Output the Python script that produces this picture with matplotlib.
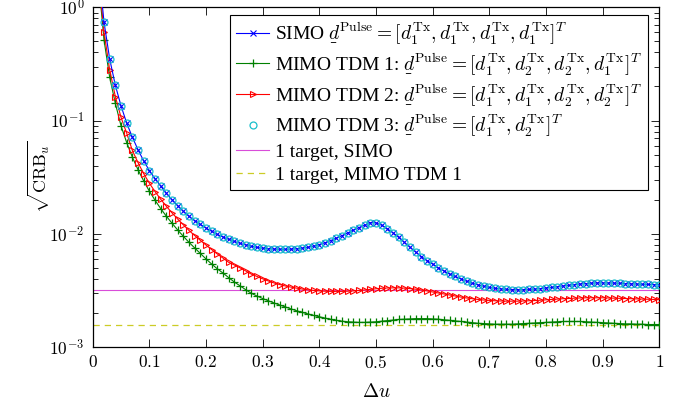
import numpy as np
import matplotlib.pyplot as plt
from matplotlib.ticker import FixedLocator, FuncFormatter, LogLocator, NullFormatter

plt.rcParams['font.family'] = ['Liberation Serif', 'DejaVu Serif']
plt.rcParams['mathtext.fontset'] = 'cm'

## values (u = 0.01 ... 1.00)
du = np.round(np.arange(1, 101) * 0.01, 2)

simo = [2.4, 0.74, 0.35, 0.205, 0.135, 0.095, 0.0714, 0.0552, 0.0441, 0.0362,
        0.0307, 0.0264, 0.0228, 0.0200, 0.0177, 0.0158, 0.01425, 0.01305, 0.0121, 0.01125,
        0.0105, 0.00988, 0.00937, 0.00893, 0.00857, 0.00823, 0.00797, 0.00776, 0.00758, 0.00746,
        0.00738, 0.00733, 0.0073, 0.0073, 0.00732, 0.00737, 0.00746, 0.0076, 0.00779, 0.00803,
        0.00834, 0.00871, 0.00914, 0.00963, 0.01018, 0.01076, 0.01135, 0.0119, 0.01255, 0.0125,
        0.0119, 0.0111, 0.0102, 0.0093, 0.0084, 0.0076, 0.0069, 0.0063, 0.0058, 0.0054,
        0.0050, 0.0047, 0.0044, 0.0042, 0.0040, 0.0038, 0.00366, 0.00354, 0.00344, 0.00336,
        0.0033, 0.00326, 0.00323, 0.00322, 0.00321, 0.00322, 0.00323, 0.00325, 0.00328, 0.00332,
        0.00336, 0.00341, 0.00346, 0.00351, 0.00356, 0.0036, 0.00363, 0.00366, 0.00368, 0.00368,
        0.00368, 0.00367, 0.00365, 0.00363, 0.00361, 0.0036, 0.00358, 0.00357, 0.00356, 0.00355]

tdm1 = [1.8, 0.515, 0.241, 0.142, 0.0898, 0.064, 0.0475, 0.0368, 0.0293, 0.0238,
        0.0198, 0.0167, 0.0143, 0.0124, 0.0108, 0.0095, 0.0084, 0.0075, 0.0067, 0.0060,
        0.0054, 0.0049, 0.0045, 0.0041, 0.00375, 0.00347, 0.00321, 0.00298, 0.00282, 0.00268,
        0.00256, 0.00245, 0.00235, 0.00226, 0.00217, 0.00209, 0.00202, 0.00196, 0.0019, 0.00185,
        0.0018, 0.00176, 0.00172, 0.00169, 0.00167, 0.00166, 0.00165, 0.00165, 0.00166, 0.00167,
        0.00169, 0.00171, 0.00173, 0.00175, 0.00176, 0.00177, 0.00178, 0.00178, 0.00178, 0.00177,
        0.00176, 0.00174, 0.00172, 0.0017, 0.00168, 0.00166, 0.00164, 0.00162, 0.00161, 0.0016,
        0.00159, 0.00159, 0.00159, 0.00159, 0.0016, 0.00161, 0.00162, 0.00163, 0.00164, 0.00165,
        0.00166, 0.00167, 0.00168, 0.00168, 0.00168, 0.00168, 0.00167, 0.00166, 0.00165, 0.00164,
        0.00163, 0.00162, 0.00161, 0.0016, 0.0016, 0.00159, 0.00159, 0.00158, 0.00158, 0.00158]

tdm2 = [2.0, 0.605, 0.28, 0.163, 0.107, 0.0774, 0.0545, 0.0425, 0.0340, 0.0280,
        0.0236, 0.0202, 0.0175, 0.0153, 0.0135, 0.0120, 0.0107, 0.00965, 0.00875, 0.00795,
        0.00725, 0.00663, 0.0061, 0.0056, 0.0053, 0.0050, 0.0047, 0.0044, 0.0042, 0.0040,
        0.00383, 0.00368, 0.00356, 0.00346, 0.00338, 0.00331, 0.00325, 0.0032, 0.00316, 0.00313,
        0.00311, 0.0031, 0.0031, 0.0031, 0.00311, 0.00313, 0.00316, 0.00319, 0.00323, 0.00327,
        0.0033, 0.00332, 0.00333, 0.00333, 0.00331, 0.00328, 0.00324, 0.00319, 0.00313, 0.00306,
        0.003, 0.00294, 0.00288, 0.00282, 0.00276, 0.00271, 0.00267, 0.00263, 0.0026, 0.00258,
        0.00256, 0.00255, 0.00254, 0.00254, 0.00254, 0.00255, 0.00256, 0.00257, 0.00259, 0.00261,
        0.00263, 0.00265, 0.00267, 0.00268, 0.0027, 0.00271, 0.00272, 0.00272, 0.00272, 0.00272,
        0.00271, 0.0027, 0.00269, 0.00268, 0.00267, 0.00266, 0.00265, 0.00264, 0.00263, 0.00262]

tdm3 = simo  # identical to SIMO in the reference

single_simo = 3.17e-3
single_tdm1 = 1.556e-3

D = r'\underset{\_}{d}^{\mathrm{Pulse}}'
labels = [r'SIMO $' + D + r' = [d_1^{\mathrm{Tx}}, d_1^{\mathrm{Tx}}, d_1^{\mathrm{Tx}}, d_1^{\mathrm{Tx}}]^T$',
          r'MIMO TDM 1: $' + D + r' = [d_1^{\mathrm{Tx}}, d_2^{\mathrm{Tx}}, d_2^{\mathrm{Tx}}, d_1^{\mathrm{Tx}}]^T$',
          r'MIMO TDM 2: $' + D + r' = [d_1^{\mathrm{Tx}}, d_1^{\mathrm{Tx}}, d_2^{\mathrm{Tx}}, d_2^{\mathrm{Tx}}]^T$',
          r'MIMO TDM 3: $' + D + r' = [d_1^{\mathrm{Tx}}, d_2^{\mathrm{Tx}}]^T$',
          '1 target, SIMO',
          '1 target, MIMO TDM 1']

fig = plt.figure(figsize=(6.83, 4.09), dpi=100)
ax = fig.add_subplot(111)
fig.subplots_adjust(left=0.1357, right=0.9653, top=0.982, bottom=0.1516)

ax.plot(du, simo, color='blue', lw=0.8, marker='x', ms=3.8, mew=0.8, label=labels[0], zorder=4)
ax.plot(du, tdm1, color=(0, 0.5, 0), lw=0.8, marker='+', ms=5.5, mew=0.9, label=labels[1], zorder=3)
ax.plot(du, tdm2, color='red', lw=0.8, marker='>', ms=4.5, mew=0.8, mfc='none', label=labels[2], zorder=3)
ax.plot(du, tdm3, ls='none', color=(0.1, 0.75, 0.8), marker='o', ms=5, mew=0.9, mfc='none', label=labels[3], zorder=5)
ax.plot([0, 1], [single_simo, single_simo], color=(0.85, 0.3, 0.85), lw=0.8, label=labels[4], zorder=2)
ax.plot([0, 1], [single_tdm1, single_tdm1], color=(0.8, 0.8, 0.15), lw=0.9, ls=(0, (5, 4)), label=labels[5], zorder=2)

ax.set_yscale('log')
ax.set_xlim(0, 1)
ax.set_ylim(1e-3, 1)
ax.xaxis.set_major_locator(FixedLocator(np.round(np.arange(0, 1.01, 0.1), 1)))
ax.xaxis.set_major_formatter(FuncFormatter(lambda v, p: '$%g$' % v))
ax.yaxis.set_major_locator(FixedLocator([1e-3, 1e-2, 1e-1, 1]))
ax.yaxis.set_major_formatter(FuncFormatter(lambda v, p: '$10^{%d}$' % round(np.log10(v))))
ax.yaxis.set_minor_locator(LogLocator(base=10, subs=np.arange(2, 10)))
ax.yaxis.set_minor_formatter(NullFormatter())
ax.tick_params(which='both', direction='in', top=True, right=True, labelsize=12.5)
ax.tick_params(which='major', length=6, width=0.6, pad=6)
ax.tick_params(which='minor', length=3.5, width=0.6)
for s in ax.spines.values():
    s.set_linewidth(0.9)

ax.set_xlabel(r'$\Delta u$', fontsize=14, labelpad=8)
ax.set_ylabel(r'$\sqrt{\mathrm{CRB}_u}$', fontsize=13, labelpad=-2)

leg = ax.legend(loc='upper right', bbox_to_anchor=(0.980, 0.977), fontsize=14,
                fancybox=False, framealpha=1, edgecolor='black', borderpad=0.3,
                labelspacing=0.27, handlelength=1.7, handletextpad=0.3, borderaxespad=0)
leg.get_frame().set_linewidth(0.8)

fig.savefig('out.png', dpi=100)
